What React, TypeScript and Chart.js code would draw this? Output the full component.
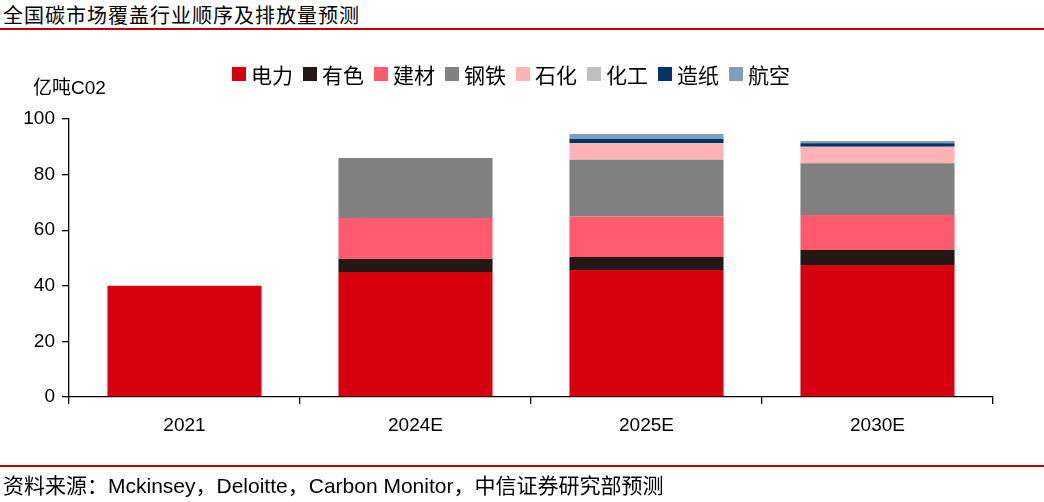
import React, { useEffect, useRef } from "react";
import { Chart, registerables } from "chart.js";

Chart.register(...registerables);

const categories = ["2021", "2024E", "2025E", "2030E"];
const seriesNames = ["电力", "有色", "建材", "钢铁", "石化", "化工", "造纸", "航空"];
const power = [40, 45, 45.7, 47.5];
const nonferrous = [0, 4.6, 4.7, 5.4];
const building = [0, 14.8, 14.5, 12.6];
const steel = [0, 21.6, 20.4, 18.6];
const petro = [0, 0, 6.0, 5.9];
const chemical = [0, 0, 0, 0];
const paper = [0, 0, 1.5, 1.3];
const aviation = [0, 0, 1.8, 0.8];
const yTicks = [0, 20, 40, 60, 80, 100];

const seriesValues = [power, nonferrous, building, steel, petro, chemical, paper, aviation];
const seriesColors = ["#D7000F", "#231815", "#FF5B6E", "#808080", "#FFB3B5", "#BFBFBF", "#003366", "#7F9DBE"];

const NUM_FONT = "Arial, 'Liberation Sans', 'Noto Sans CJK SC', sans-serif";

export default function App() {
  const canvasRef = useRef<HTMLCanvasElement | null>(null);

  useEffect(() => {
    document.body.style.margin = "0";
    const canvas = canvasRef.current;
    if (!canvas) return;
    const chart = new Chart(canvas, {
      type: "bar",
      data: {
        labels: categories,
        datasets: seriesNames.map((name, i) => ({
          label: name,
          data: seriesValues[i],
          backgroundColor: seriesColors[i],
          borderWidth: 0,
          barPercentage: 0.667,
          categoryPercentage: 1,
        })),
      },
      options: {
        animation: false,
        responsive: false,
        maintainAspectRatio: false,
        layout: { padding: { top: 119, left: 0, right: 51, bottom: 65 } },
        plugins: {
          legend: { display: false },
          tooltip: { enabled: false },
        },
        scales: {
          x: {
            stacked: true,
            grid: {
              display: true,
              drawOnChartArea: false,
              drawTicks: true,
              tickLength: 7,
              color: "#000",
              lineWidth: 1.3,
              offset: true,
            },
            border: { display: true, color: "#000", width: 1.3 },
            ticks: {
              color: "#000",
              font: { family: NUM_FONT, size: 19 },
              padding: 10,
            },
            afterFit: (scale: any) => {
              scale.height = 40;
            },
          },
          y: {
            stacked: true,
            min: 0,
            max: 100,
            afterBuildTicks: (scale: any) => {
              scale.ticks = yTicks.map((v) => ({ value: v }));
            },
            grid: {
              display: true,
              drawOnChartArea: false,
              drawTicks: true,
              tickLength: 7,
              color: "#000",
              lineWidth: 1.3,
            },
            border: { display: true, color: "#000", width: 1.3 },
            ticks: {
              color: "#000",
              font: { family: NUM_FONT, size: 19 },
              padding: 7,
            },
            afterFit: (scale: any) => {
              scale.width = 69;
            },
          },
        },
      },
    });
    return () => chart.destroy();
  }, []);

  return (
    <div style={{ position: "relative", width: 1044, height: 502, background: "#fff", overflow: "hidden" }}>
      <div
        style={{
          position: "absolute",
          left: 3,
          top: 3,
          fontFamily: "'Noto Sans CJK SC', sans-serif",
          fontSize: 20,
          lineHeight: "24px",
          color: "#000",
          letterSpacing: 1,
          whiteSpace: "nowrap",
        }}
      >
        全国碳市场覆盖行业顺序及排放量预测
      </div>
      <div style={{ position: "absolute", left: 0, top: 28, width: 1044, height: 2, background: "#C00000" }} />
      <canvas ref={canvasRef} width={1044} height={502} style={{ position: "absolute", left: 0, top: 0, width: 1044, height: 502 }} />
      <div
        style={{
          position: "absolute",
          left: 232,
          top: 61,
          display: "flex",
          alignItems: "center",
          fontFamily: "'Noto Sans CJK SC', sans-serif",
          fontSize: 21,
          lineHeight: "26px",
          color: "#000",
          whiteSpace: "nowrap",
        }}
      >
        {seriesNames.map((name, i) => (
          <div key={name} style={{ display: "flex", alignItems: "center", marginRight: 10 }}>
            <span style={{ display: "inline-block", width: 14, height: 14, background: seriesColors[i], marginRight: 5 }} />
            <span>{name}</span>
          </div>
        ))}
      </div>
      <div
        style={{
          position: "absolute",
          left: 33,
          top: 76,
          fontFamily: NUM_FONT,
          fontSize: 19,
          lineHeight: "24px",
          color: "#000",
          whiteSpace: "nowrap",
        }}
      >
        亿吨C02
      </div>
      <div style={{ position: "absolute", left: 0, top: 465, width: 1044, height: 2, background: "#C00000" }} />
      <div
        style={{
          position: "absolute",
          left: 3,
          top: 474,
          fontFamily: NUM_FONT,
          fontSize: 21,
          lineHeight: "24px",
          color: "#000",
          whiteSpace: "nowrap",
        }}
      >
        资料来源：Mckinsey，Deloitte，Carbon Monitor，中信证券研究部预测
      </div>
    </div>
  );
}
